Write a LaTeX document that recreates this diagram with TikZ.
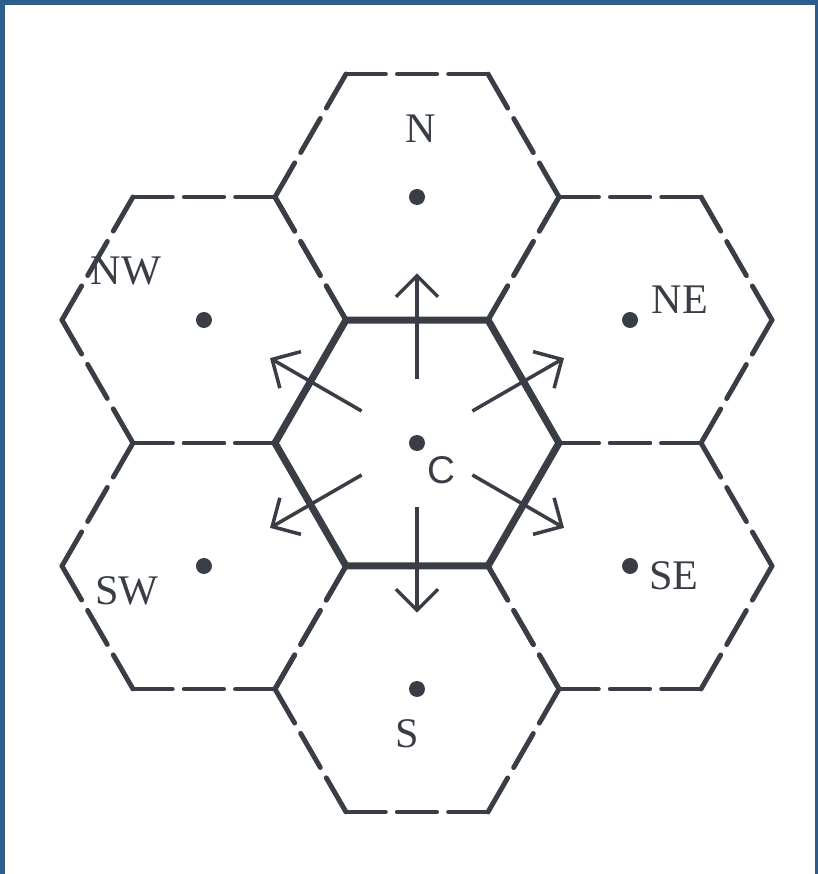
\documentclass[tikz,border=0pt]{standalone}
\usepackage{fontspec}
\setmainfont{Liberation Serif}
\setsansfont{Liberation Sans}
\usetikzlibrary{calc,arrows.meta}
\definecolor{ink}{HTML}{393D46}
\definecolor{scanframe}{HTML}{2E5C8C}
\begin{document}
\begin{tikzpicture}[x=1cm,y=1cm,
	dot/.style={circle, fill=ink, inner sep=0pt, minimum size=0.16cm},
	celledge/.style={draw=ink, line width=1.4pt, line cap=round, dash pattern=on 3.93mm off 1.2mm},
	cellwall/.style={draw=ink, line width=2pt, line join=miter},
	spoke/.style={draw=ink, line width=1pt, -{Straight Barb[length=6pt, width=12pt, line width=1pt]}},
	tag/.style={text=ink, font=\fontsize{12}{14}\selectfont, inner sep=0pt}]
% page and scanned frame
\fill[scanframe] (0,0) rectangle (8.18,8.74);
\fill[white] (0.05,0) rectangle (8.15,8.69);
\useasboundingbox (0,0) rectangle (8.18,8.74);
% cell centres
\node[dot] (C) at (4.17,4.31) {};
\foreach \n/\a in {N/90, NE/30, SE/-30, S/-90, SW/-150, NW/150}
	\node[dot] (\n) at ($(C)+(\a:2.46)$) {};
% neighbouring cells
\foreach \n in {N, NE, SE, S, SW, NW}
{
	\foreach \a in {0,60,...,300} {
		\draw[celledge] ($(\n)+(\a:1.42)$) -- ($(\n)+({\a+60}:1.42)$);
	}
}
% the centre cell
\draw[cellwall] ($(C)+(0:1.42)$) \foreach \a in {60,120,...,300} { -- ($(C)+(\a:1.42)$) } -- cycle;
% moves to the six neighbours
\foreach \n in {N, NE, SE, S, SW, NW}
	\draw[spoke] ($(C)!0.26!(\n)$) -- ($(C)!0.69!(\n)$);
% labels
\node[tag] (labN) at ($(N)+(0.04,0.68)$) {N};
\node[tag] (labNE) at ($(NE)+(0.50,0.20)$) {NE};
\node[tag] (labSE) at ($(SE)+(0.44,-0.10)$) {SE};
\node[tag] (labS) at ($(S)+(-0.10,-0.45)$) {S};
\node[tag] (labSW) at ($(SW)+(-0.77,-0.25)$) {SW};
\node[tag] (labNW) at ($(NW)+(-0.78,0.49)$) {NW};
\node[tag, font=\sffamily\fontsize{11}{13}\selectfont] (labC) at ($(C)+(0.24,-0.27)$) {C};
\end{tikzpicture}
\end{document}
